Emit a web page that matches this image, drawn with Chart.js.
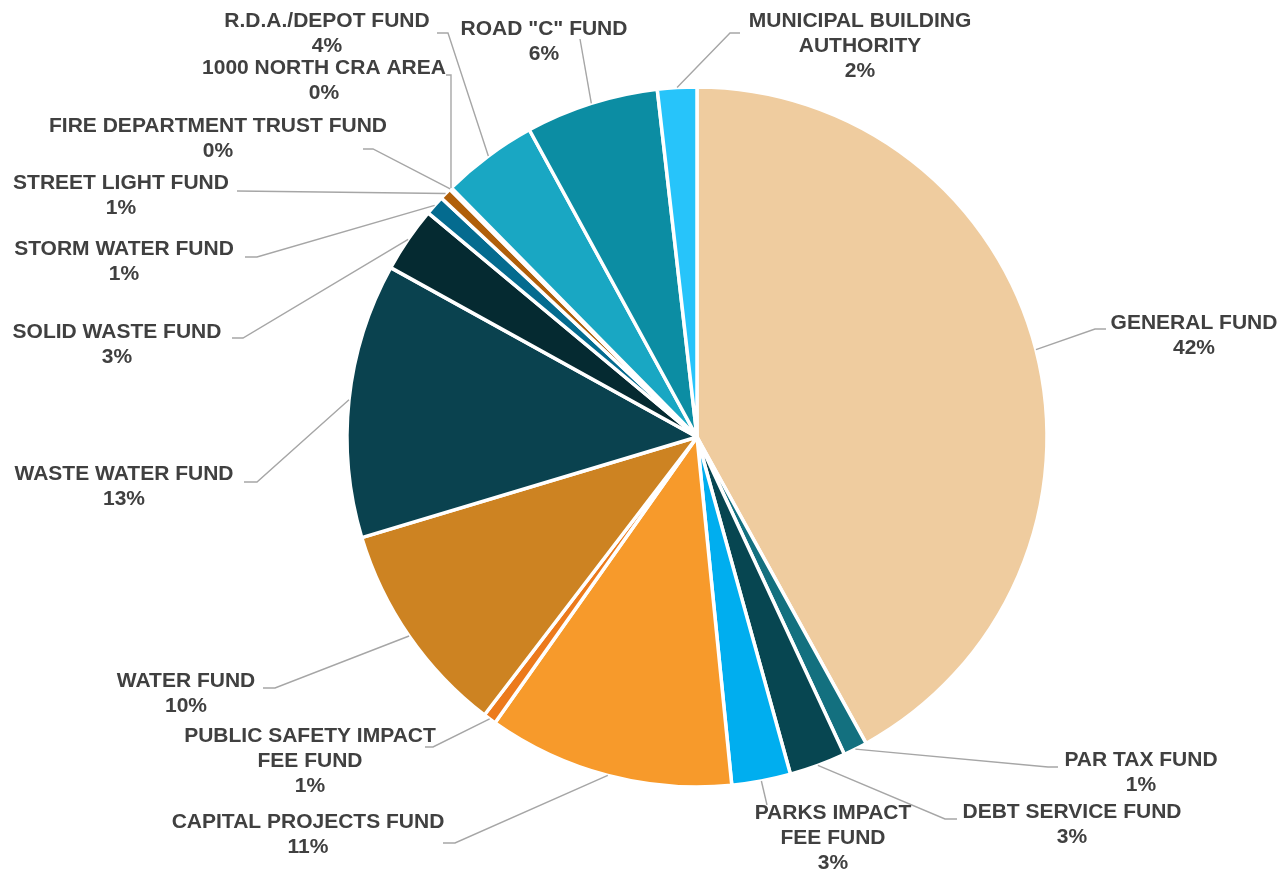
<!DOCTYPE html>
<html>
<head>
<meta charset="utf-8">
<script src="https://cdn.jsdelivr.net/npm/chart.js@4"></script>
<style>
  html, body { margin: 0; padding: 0; background: #fff; }
  #wrap { width: 1285px; height: 871px; }
</style>
</head>
<body>
<div id="wrap"><canvas id="fundChart" width="1285" height="871"></canvas></div>
<script>
// Fund names (line breaks as drawn in the labels)
const categories = [
  "GENERAL FUND",
  "PAR TAX FUND",
  "DEBT SERVICE FUND",
  "PARKS IMPACT\nFEE FUND",
  "CAPITAL PROJECTS FUND",
  "PUBLIC SAFETY IMPACT\nFEE FUND",
  "WATER FUND",
  "WASTE WATER FUND",
  "SOLID WASTE FUND",
  "STORM WATER FUND",
  "STREET LIGHT FUND",
  "FIRE DEPARTMENT TRUST FUND",
  "1000 NORTH CRA AREA",
  "R.D.A./DEPOT FUND",
  "ROAD \"C\" FUND",
  "MUNICIPAL BUILDING\nAUTHORITY",
];

// share of total
const shares = [41.7, 1.1, 2.6, 2.7, 11.3, 0.6, 9.9, 12.6, 3.0, 0.9, 0.55, 0.05, 0.05, 4.4, 6.1, 1.8];

const sliceColors = [
  "#EFCC9F", "#13707F", "#074651", "#00AEEF", "#F79A2B", "#EC7A1C",
  "#CD8322", "#0A424F", "#052A31", "#046B8F", "#B05F0A", "#9C5A10",
  "#1B8FA8", "#19A7C3", "#0C8DA3", "#27C4FA",
];

// label layout: text centre x, first line y, leader elbow, leader end
const labelLayout = [
  { cx: 1194, y: 323, elbow: [1095, 329], end: [1106, 329] },
  { cx: 1141, y: 760, elbow: [1048, 767], end: [1058, 767] },
  { cx: 1072, y: 812, elbow: [945, 819], end: [957, 819] },
  { cx: 833, y: 813, elbow: [767, 805], end: [767, 805] },
  { cx: 308, y: 822, elbow: [455, 843], end: [443, 843] },
  { cx: 310, y: 736, elbow: [433, 747], end: [425, 747] },
  { cx: 186, y: 681, elbow: [275, 688], end: [263, 688] },
  { cx: 124, y: 474, elbow: [257, 482], end: [244, 482] },
  { cx: 117, y: 332, elbow: [243, 338], end: [232, 338] },
  { cx: 124, y: 249, elbow: [257, 257], end: [245, 257] },
  { cx: 121, y: 183, elbow: [237, 191], end: [237, 191] },
  { cx: 218, y: 126, elbow: [373, 149], end: [363, 149] },
  { cx: 324, y: 68, elbow: [451, 75], end: [446, 75] },
  { cx: 327, y: 21, elbow: [448, 33], end: [437, 33] },
  { cx: 544, y: 29, elbow: [580, 39], end: [580, 39] },
  { cx: 860, y: 21, elbow: [730, 33], end: [740, 33] },
];

const LINE_H = 25;

const calloutPlugin = {
  id: "callouts",
  afterDatasetsDraw(chart) {
    const ctx = chart.ctx;
    const meta = chart.getDatasetMeta(0);
    const total = shares.reduce((a, b) => a + b, 0);
    ctx.save();
    meta.data.forEach((arc, i) => {
      const p = arc.getProps(["x", "y", "startAngle", "endAngle", "outerRadius"], true);
      const mid = (p.startAngle + p.endAngle) / 2;
      const sx = p.x + Math.cos(mid) * p.outerRadius;
      const sy = p.y + Math.sin(mid) * p.outerRadius;
      const lay = labelLayout[i];

      // leader line
      ctx.strokeStyle = "#A6A6A6";
      ctx.lineWidth = 1.4;
      ctx.beginPath();
      ctx.moveTo(sx, sy);
      ctx.lineTo(lay.elbow[0], lay.elbow[1]);
      ctx.lineTo(lay.end[0], lay.end[1]);
      ctx.stroke();

      // text
      const lines = categories[i].split("\n");
      lines.push(Math.round((shares[i] / total) * 100) + "%");
      ctx.fillStyle = "#404040";
      ctx.font = "bold 21px 'Liberation Sans', Arial, sans-serif";
      ctx.textAlign = "center";
      ctx.textBaseline = "middle";
      lines.forEach((t, k) => ctx.fillText(t, lay.cx, lay.y + k * LINE_H));
    });
    ctx.restore();
  },
};

const ctx = document.getElementById("fundChart").getContext("2d");
new Chart(ctx, {
  type: "pie",
  data: {
    labels: categories,
    datasets: [{
      data: shares,
      backgroundColor: sliceColors,
      borderColor: "#ffffff",
      borderWidth: 3.5,
      hoverOffset: 0,
      radius: 350,
    }],
  },
  options: {
    responsive: false,
    animation: false,
    layout: { padding: { left: 347, right: 238, top: 87, bottom: 84 } },
    plugins: {
      legend: { display: false },
      tooltip: { enabled: false },
    },
    events: [],
  },
  plugins: [calloutPlugin],
});
</script>
</body>
</html>
